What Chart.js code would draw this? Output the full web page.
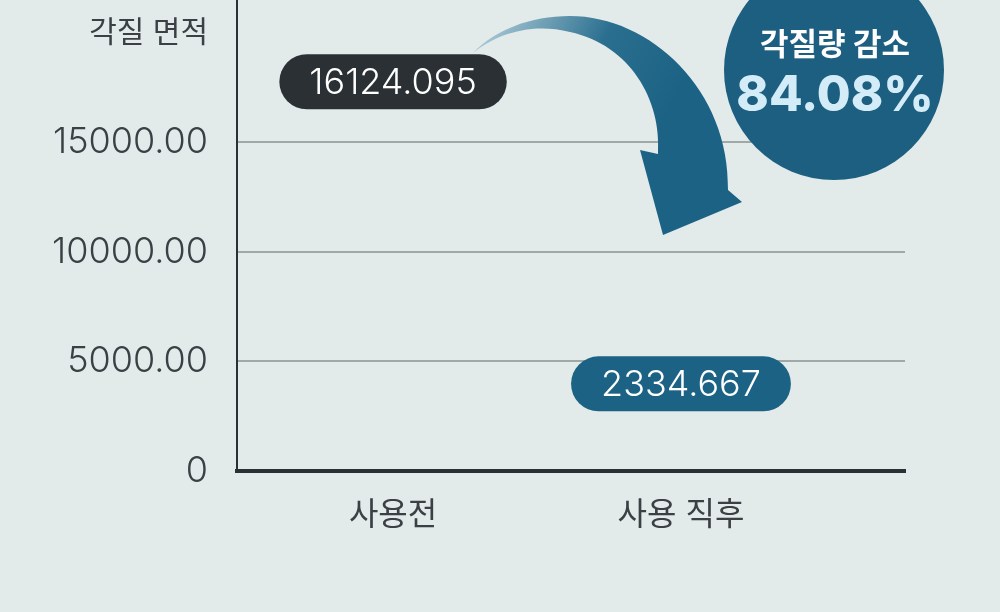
<!DOCTYPE html>
<html>
<head>
<meta charset="utf-8">
<script src="https://cdn.jsdelivr.net/npm/chart.js@4.4.0/dist/chart.umd.min.js"></script>
<style>
    html, body { margin: 0; padding: 0; background: #e2eaea; }
    #graficoBox { width: 1000px; height: 612px; }
</style>
</head>
<body>
<div id="graficoBox"><canvas id="grafico1"></canvas></div>
<script>
// dados do grafico
const categorias = ['사용전', '사용 직후'];
const valores = [16124.095, 2334.667];
const coresRotulo = ['#2b3034', '#1c6284'];
const ticksY = [0, 5000, 10000, 15000, 20000];
const tituloY = '각질 면적';
const textoReducao = '각질량 감소';
const percentReducao = '84.08%';

const fonte = 'Inter, "Noto Sans CJK KR", sans-serif';
const corTexto = '#3a4044';

// rotulos em forma de pilula acima de cada barra
const pilulas = {
    id: 'pilulas',
    afterDatasetsDraw(chart) {
        const ctx = chart.ctx;
        const meta = chart.getDatasetMeta(0);
        ctx.save();
        ctx.font = '300 36px ' + fonte;
        ctx.textAlign = 'center';
        ctx.textBaseline = 'middle';
        meta.data.forEach((barra, i) => {
            const txt = String(valores[i]);
            const w = ctx.measureText(txt).width + 60;
            const h = 55;
            const cx = barra.x;
            const cy = barra.y - 36;
            ctx.fillStyle = coresRotulo[i];
            ctx.beginPath();
            ctx.roundRect(cx - w / 2, cy - h / 2, w, h, h / 2);
            ctx.fill();
            ctx.fillStyle = '#ffffff';
            ctx.fillText(txt, cx, cy + 1);
        });
        ctx.restore();
    }
};

// seta curva e circulo com a porcentagem
const enfeites = {
    id: 'enfeites',
    beforeDatasetsDraw(chart) {
        const ctx = chart.ctx;
        ctx.save();

        const grad = ctx.createLinearGradient(480, 40, 660, 130);
        grad.addColorStop(0, '#a9c8d5');
        grad.addColorStop(0.55, '#2a6f8f');
        grad.addColorStop(1, '#1c6284');
        ctx.fillStyle = grad;
        ctx.beginPath();
        ctx.moveTo(473, 53);
        ctx.bezierCurveTo(495, 30, 530, 16, 570, 16);
        ctx.bezierCurveTo(650, 16, 730, 90, 728, 190);
        ctx.lineTo(742, 202);
        ctx.lineTo(663, 235);
        ctx.lineTo(640, 150);
        ctx.lineTo(658, 154);
        ctx.bezierCurveTo(662, 100, 630, 45, 570, 32);
        ctx.bezierCurveTo(530, 22, 495, 35, 473, 53);
        ctx.closePath();
        ctx.fill();

        ctx.fillStyle = '#1c5f80';
        ctx.beginPath();
        ctx.arc(834, 70, 110, 0, Math.PI * 2);
        ctx.fill();

        ctx.textAlign = 'center';
        ctx.textBaseline = 'middle';
        ctx.fillStyle = '#ffffff';
        ctx.font = '700 31px ' + fonte;
        ctx.fillText(textoReducao, 835, 46);
        ctx.fillStyle = '#d3ecf8';
        ctx.font = '800 49px ' + fonte;
        ctx.fillText(percentReducao, 835, 96);
        ctx.restore();
    }
};

const dados1 = {
    datasets: [{
        label: tituloY,
        data: valores.map((v, i) => ({ x: i, y: v })),
        backgroundColor: 'rgba(0,0,0,0)',
        borderWidth: 0
    }]
};

const config1 = {
    type: 'bar',
    data: dados1,
    plugins: [enfeites, pilulas],
    options: {
        responsive: true,
        maintainAspectRatio: false,
        animation: false,
        layout: { padding: { top: 0, right: 95, bottom: 0, left: 0 } },
        plugins: {
            legend: { display: false },
            tooltip: { enabled: false }
        },
        scales: {
            x: {
                type: 'linear',
                offset: false,
                min: -0.542,
                max: 1.778,
                afterBuildTicks: s => { s.ticks = categorias.map((c, i) => ({ value: i })); },
                ticks: {
                    callback: v => categorias[v],
                    padding: 25,
                    color: corTexto,
                    maxRotation: 0,
                    autoSkip: false,
                    font: { family: fonte, size: 32, weight: '400' }
                },
                grid: { color: 'rgba(0,0,0,0)', drawTicks: false },
                border: { color: '#2b3034', width: 4 },
                afterFit: s => { s.height = 141; s.paddingLeft = 0; s.paddingRight = 0; }
            },
            y: {
                min: 0,
                max: 21500,
                afterBuildTicks: s => { s.ticks = ticksY.map(v => ({ value: v })); },
                ticks: {
                    padding: 29,
                    color: corTexto,
                    callback: v => v === 20000 ? tituloY : (v === 0 ? '0' : v.toFixed(2)),
                    font: ctx => (ctx.tick && ctx.tick.value === 20000)
                        ? { family: fonte, size: 30, weight: '400' }
                        : { family: fonte, size: 36, weight: '300' }
                },
                grid: {
                    drawTicks: false,
                    lineWidth: 2,
                    color: ctx => (ctx.tick && ctx.tick.value > 0 && ctx.tick.value < 20000) ? '#a1a8a8' : 'rgba(0,0,0,0)'
                },
                border: { color: '#2b3034', width: 2 },
                afterFit: s => { s.width = 237; s.paddingTop = 0; s.paddingBottom = 0; }
            }
        }
    }
};

const grafico1 = new Chart(
    document.getElementById('grafico1'),
    config1
);
</script>
</body>
</html>
